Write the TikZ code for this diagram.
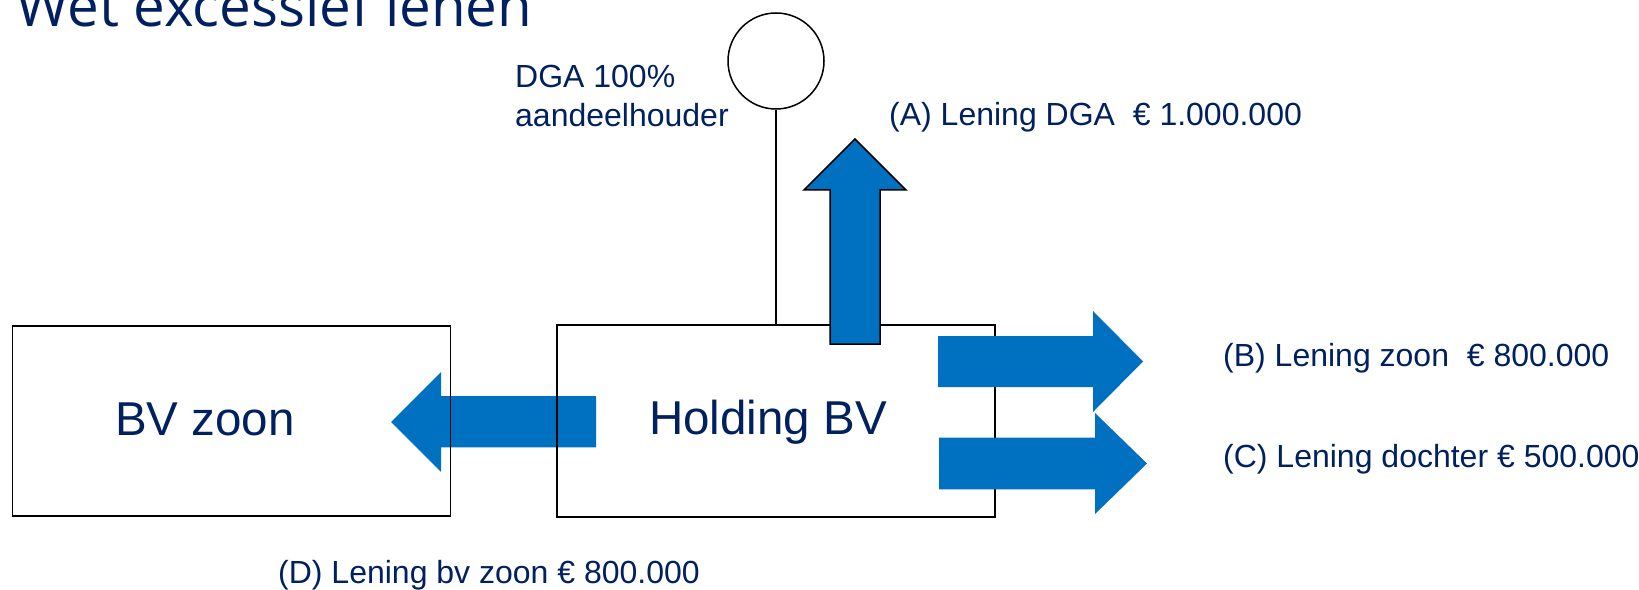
\documentclass[tikz,border=0pt]{standalone}
\usepackage{fontspec}
\setmainfont{Liberation Sans}
\newfontfamily\titlefont{Open Sans}
\definecolor{navy}{RGB}{0,32,96}
\definecolor{lblue}{RGB}{0,112,192}
\begin{document}
\begin{tikzpicture}[x=1bp,y=-1bp,
  box/.style={draw=black,line width=1.6bp,rectangle,inner sep=0pt},
  boxtext/.style={text=navy,inner sep=0pt,anchor=base west,font=\fontsize{47.5bp}{55bp}\selectfont},
  lbl/.style={text=navy,inner sep=0pt,anchor=base west,font=\fontsize{32bp}{38.5bp}\selectfont},
  blockarrow/.style={fill=lblue,draw=none},
  outlinedarrow/.style={fill=lblue,draw=black,line width=1.5bp,line join=miter},
  link/.style={draw=black,line width=1.5bp}]
\useasboundingbox (0,0) rectangle (1639,590);
% title
\node[text=navy,inner sep=0pt,anchor=base west,font=\titlefont\fontsize{56.5bp}{66bp}\selectfont] (title) at (16,27) {Wet excessief lenen};
% left block arrow (under the box borders)
\fill[blockarrow] (596,396) -- (441,396) -- (441,372) -- (391,422) -- (441,472) -- (441,447.3) -- (596,447.3) -- cycle;
% boxes
\node[box,minimum width=438bp,minimum height=190bp] (bvzoon) at (231.5,421) {};
\node[box,minimum width=438bp,minimum height=192bp] (holding) at (775.8,421) {};
\node[boxtext] (bvzoontext) at (115,435) {BV zoon};
\node[boxtext] (holdingtext) at (649,434) {Holding BV};
% shareholder
\node[draw=black,line width=1.5bp,circle,minimum size=96bp,inner sep=0pt] (dga) at (776,61) {};
\draw[link] (dga.south) -- (dga.south |- holding.north);
\node[lbl,align=left,anchor=north west] (dgatext) at (515,65) {DGA 100\%\\aandeelhouder};
% arrows on top
\draw[outlinedarrow] (830,344) -- (830,190) -- (804,190) -- (855,139) -- (906,190) -- (880,190) -- (880,344) -- cycle;
\fill[blockarrow] (938,336) -- (1093,336) -- (1093,311) -- (1143,361.5) -- (1093,412) -- (1093,387) -- (938,387) -- cycle;
\fill[blockarrow] (939,437.5) -- (1095,437.5) -- (1095,413) -- (1147,463.5) -- (1095,514) -- (1095,489.3) -- (939,489.3) -- cycle;
% labels
\node[lbl] (la) at (889,126) {(A) Lening DGA\ \ € 1.000.000};
\node[lbl] (lb) at (1223,366.7) {(B) Lening zoon\ \ € 800.000};
\node[lbl] (lc) at (1223,467.3) {(C) Lening dochter € 500.000};
\node[lbl] (ld) at (278,583) {(D) Lening bv zoon € 800.000};
\end{tikzpicture}
\end{document}
